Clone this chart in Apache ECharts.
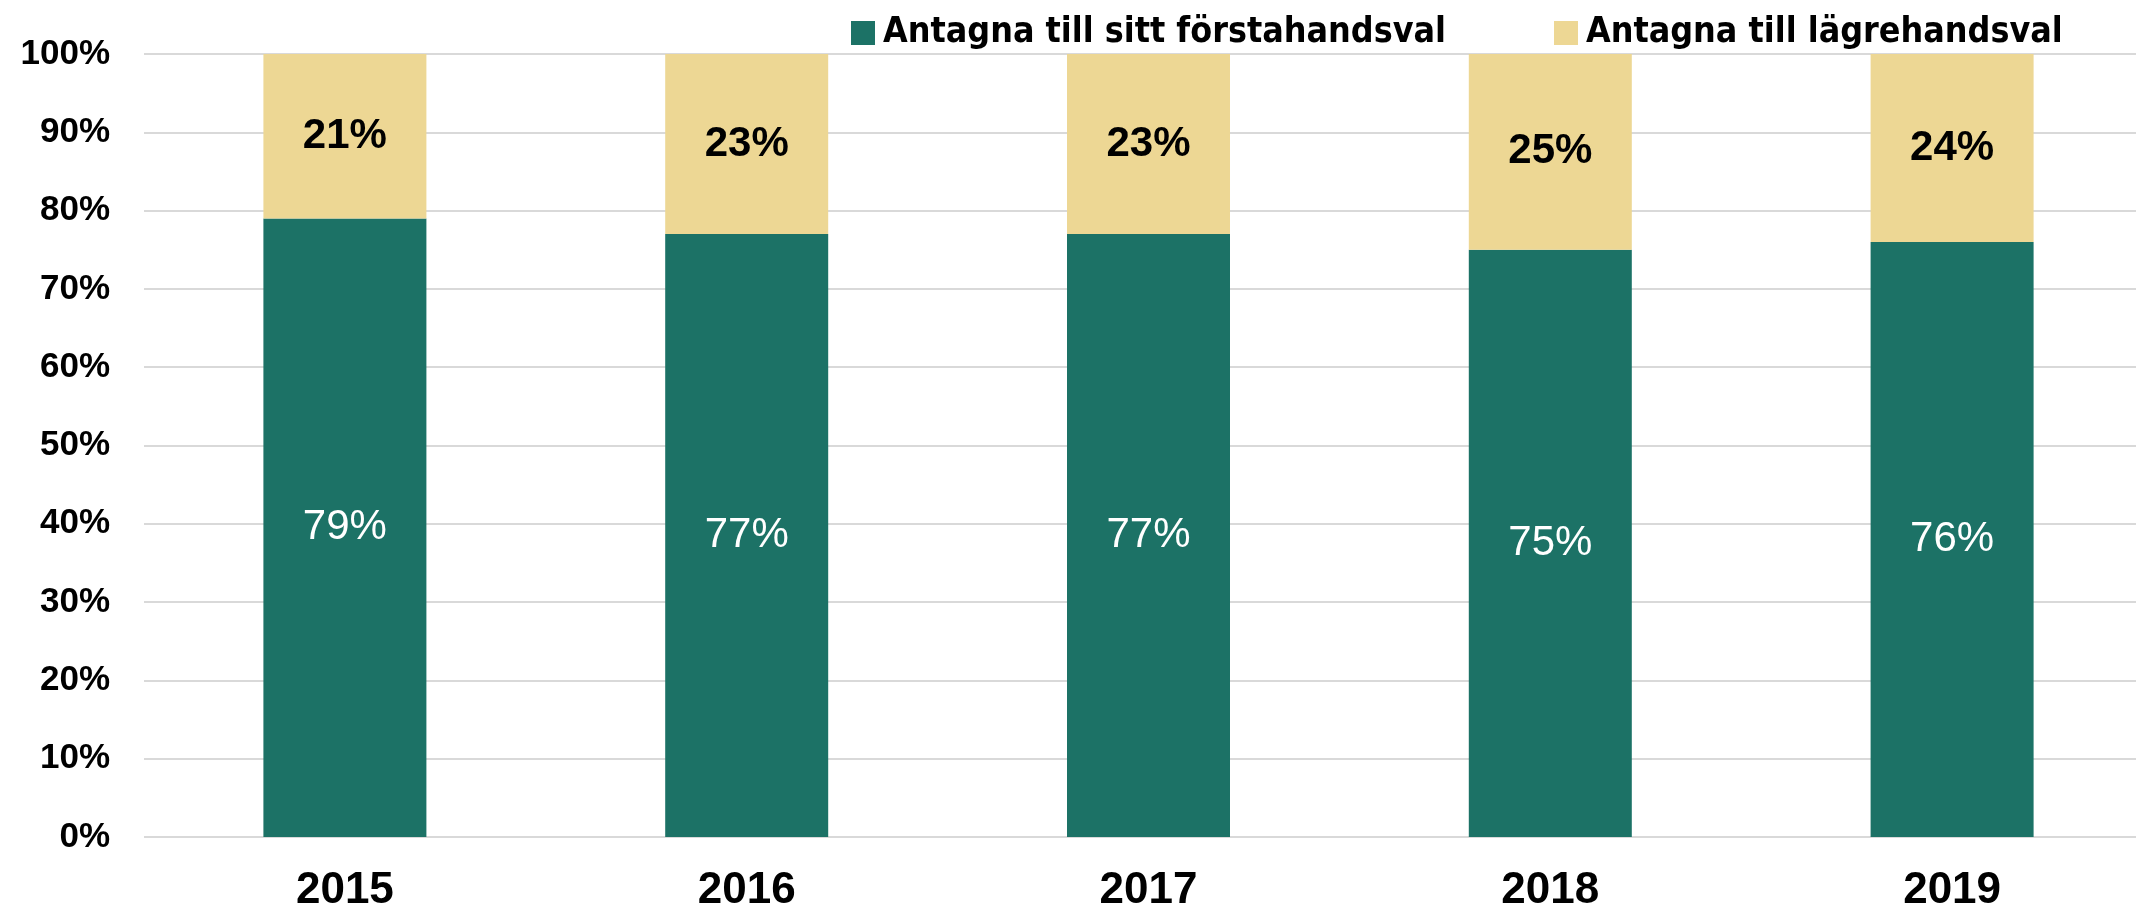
<!DOCTYPE html>
<html>
<head>
<meta charset="utf-8">
<title>Antagna</title>
<script src="https://cdn.jsdelivr.net/npm/echarts@6/dist/echarts.min.js"></script>
<style>
html,body{margin:0;padding:0;background:#fff;overflow:hidden;}
#chart{width:2136px;height:907px;}
</style>
</head>
<body>
<div id="chart"></div>
<script>
// kategorier och värden
var years = ['2015', '2016', '2017', '2018', '2019'];
var forstahand = [79, 77, 77, 75, 76];
var lagrehand = [21, 23, 23, 25, 24];
var seriesNames = ['Antagna till sitt förstahandsval', 'Antagna till lägrehandsval'];

var chart = echarts.init(document.getElementById('chart'));

var option = {
    animation: false,
    backgroundColor: '#fff',
    legend: {
        left: 846,
        top: 10,
        itemWidth: 24,
        itemHeight: 24,
        itemGap: 108,
        icon: 'rect',
        textStyle: {
            fontFamily: 'DejaVu Sans Condensed',
            fontWeight: 'bold',
            fontSize: 35.5,
            color: '#000',
            padding: [0, 0, 0, 3]
        },
        data: seriesNames
    },
    grid: {
        left: 144,
        right: -17,
        top: 54,
        bottom: 70,
        outerBoundsMode: 'none'
    },
    xAxis: {
        type: 'category',
        data: years,
        axisLine: {show: false},
        axisTick: {show: false},
        axisLabel: {
            margin: 32,
            fontFamily: 'Liberation Sans',
            fontWeight: 'bold',
            fontSize: 44,
            color: '#000'
        }
    },
    yAxis: {
        type: 'value',
        min: 0,
        max: 100,
        interval: 10,
        axisLabel: {
            formatter: '{value}%',
            margin: 34,
            fontFamily: 'Liberation Sans',
            fontWeight: 'bold',
            fontSize: 35,
            color: '#000'
        },
        splitLine: {lineStyle: {color: '#d9d9d9', width: 2}}
    },
    series: [
        {
            name: seriesNames[0],
            type: 'bar',
            stack: 'tot',
            barWidth: 163,
            data: forstahand,
            itemStyle: {color: '#1c7266'},
            label: {
                show: true,
                position: 'inside',
                formatter: '{c}%',
                fontFamily: 'Liberation Sans',
                fontSize: 42,
                color: '#fff'
            }
        },
        {
            name: seriesNames[1],
            type: 'bar',
            stack: 'tot',
            barWidth: 163,
            data: lagrehand,
            itemStyle: {color: '#edd794'},
            label: {
                show: true,
                position: 'inside',
                formatter: '{c}%',
                fontFamily: 'Liberation Sans',
                fontWeight: 'bold',
                fontSize: 42,
                color: '#000'
            }
        }
    ]
};

chart.setOption(option);
</script>
</body>
</html>
